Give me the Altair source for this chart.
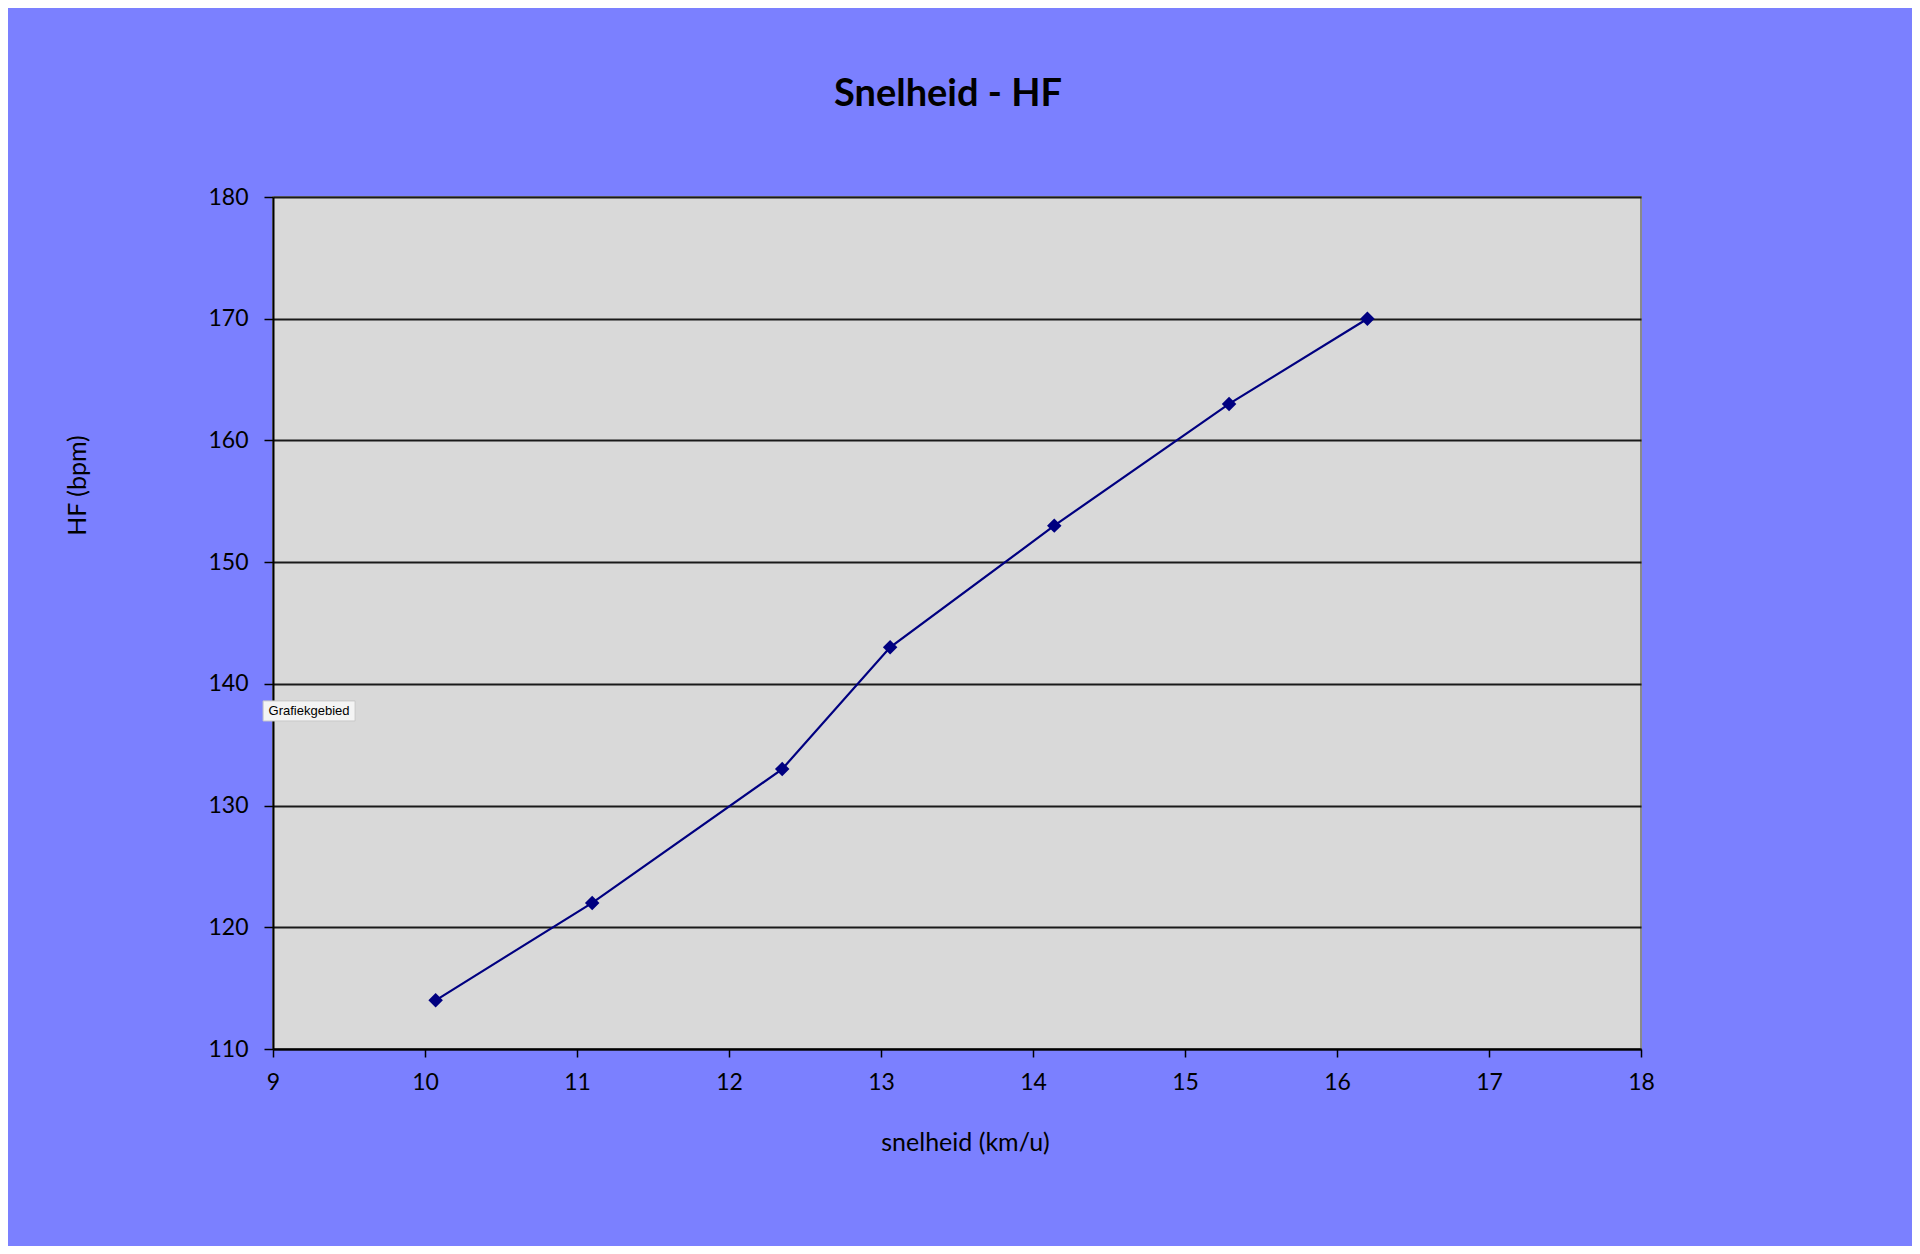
import altair as alt
import pandas as pd

speed = [10.07, 11.10, 12.35, 13.06, 14.14, 15.29, 16.20]
hf = [114, 122, 133, 143, 153, 163, 170]
x_ticks = [9, 10, 11, 12, 13, 14, 15, 16, 17, 18]
y_ticks = [110, 120, 130, 140, 150, 160, 170, 180]

df = pd.DataFrame({"speed": speed, "hf": hf})

FONT = "Lato"

xscale = alt.Scale(domain=[9, 18], nice=False, zero=False)
yscale = alt.Scale(domain=[110, 180], nice=False, zero=False)

xaxis = alt.Axis(
    values=x_ticks, format="d", grid=False, domainColor="black", domainWidth=2,
    tickColor="black", tickSize=8, tickWidth=1.5, labelFontSize=23, labelFont=FONT,
    labelColor="black", labelPadding=14, labelFlush=False, title="snelheid (km/u)",
    titleFont=FONT, titleFontSize=25, titleFontWeight="normal", titleColor="black",
    titleX=692, titleY=93, titleBaseline="middle", titleAlign="center",
)
yaxis = alt.Axis(
    values=y_ticks, format="d", grid=True, gridColor="#1a1a1a", gridWidth=2,
    domainColor="black", domainWidth=2, tickColor="black", tickSize=9, tickWidth=1.5,
    labelFontSize=23, labelFont=FONT, labelColor="black", labelPadding=16,
    labelFlush=False,
    title="HF (bpm)", titleFont=FONT, titleFontSize=25, titleFontWeight="normal",
    titleColor="black", titleX=-196, titleY=288, titleAngle=-90,
    titleBaseline="middle", titleAlign="center",
)

base = alt.Chart(df)
line = base.mark_line(color="#000080", strokeWidth=2.2).encode(
    x=alt.X("speed:Q", scale=xscale, axis=xaxis),
    y=alt.Y("hf:Q", scale=yscale, axis=yaxis),
)
pts = base.mark_point(shape="diamond", filled=True, color="#000080", size=210, opacity=1).encode(
    x=alt.X("speed:Q", scale=xscale),
    y=alt.Y("hf:Q", scale=yscale),
)

# tooltip-like annotation seen in the reference
tip_df = pd.DataFrame({"x": [8.935], "x2": [9.54], "y": [138.6], "y2": [136.95],
                       "tx": [9.237], "ty": [137.78], "label": ["Grafiekgebied"]})
tip_box = alt.Chart(tip_df).mark_rect(fill="#f4f4f4", stroke="#c8c8c8", strokeWidth=1, clip=False).encode(
    x=alt.X("x:Q", scale=xscale), x2="x2:Q",
    y=alt.Y("y:Q", scale=yscale), y2="y2:Q",
)
tip_text = alt.Chart(tip_df).mark_text(font="Liberation Sans", fontSize=13, color="black",
                                       align="center", baseline="middle", clip=False).encode(
    x=alt.X("tx:Q", scale=xscale), y=alt.Y("ty:Q", scale=yscale), text="label:N"
)

chart = alt.layer(line, pts, tip_box, tip_text).properties(
    width=1368, height=852,
    title=alt.TitleParams("Snelheid - HF", font=FONT, fontSize=38, fontWeight="bold",
                          color="black", anchor="middle", offset=72, dx=-9),
    background="#7b80ff",
    padding={"left": 265, "top": 189, "right": 271, "bottom": 197},
    autosize=alt.AutoSizeParams(type="none"),
).configure_view(
    fill="#d9d9d9", stroke="#8a8a8a", strokeWidth=2
)

chart.save("out.html", embed_options={"renderer": "svg", "actions": False})
